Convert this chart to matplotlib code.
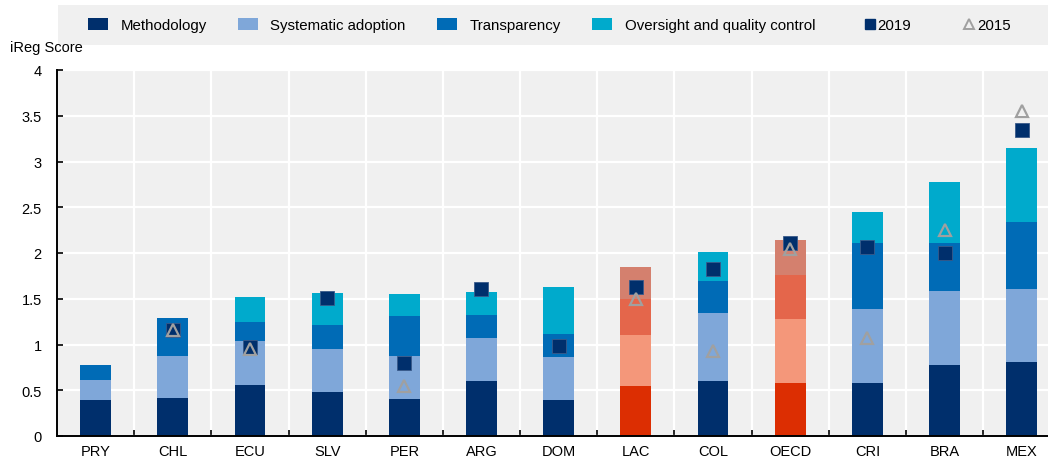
import numpy as np
import matplotlib
matplotlib.use("Agg")
import matplotlib.pyplot as plt
from matplotlib.patches import Patch, Rectangle
from matplotlib.lines import Line2D

plt.rcParams['font.family'] = ['Liberation Sans', 'DejaVu Sans']

categories = ['PRY', 'CHL', 'ECU', 'SLV', 'PER', 'ARG', 'DOM', 'LAC', 'COL', 'OECD', 'CRI', 'BRA', 'MEX']
methodology = [0.39, 0.41, 0.56, 0.48, 0.40, 0.60, 0.39, 0.55, 0.60, 0.58, 0.575, 0.78, 0.81]
systematic = [0.225, 0.467, 0.477, 0.473, 0.473, 0.469, 0.473, 0.556, 0.739, 0.695, 0.811, 0.809, 0.801]
transparency = [0.165, 0.411, 0.208, 0.265, 0.436, 0.251, 0.251, 0.39, 0.353, 0.484, 0.724, 0.523, 0.724]
oversight = [0.0, 0.0, 0.275, 0.343, 0.247, 0.251, 0.51, 0.349, 0.32, 0.379, 0.343, 0.66, 0.814]
score_2019 = [np.nan, 1.16, 0.97, 1.51, 0.80, 1.605, 0.98, 1.627, 1.823, 2.107, 2.067, 2.0, 3.34]
score_2015 = [np.nan, 1.16, 0.95, np.nan, 0.55, np.nan, np.nan, 1.50, 0.93, 2.04, 1.067, 2.25, 3.55]
highlight = ['LAC', 'OECD']

labels = ['Methodology', 'Systematic adoption', 'Transparency', 'Oversight and quality control']
blues = ['#002F6C', '#7FA7D9', '#006BB6', '#00AACC']
reds = ['#DC2E02', '#F4977A', '#E4664B', '#D4806E']
bg = '#F0F0F0'

fig = plt.figure(figsize=(10.48, 4.6), dpi=100)
ax = fig.add_axes([57 / 1048, 1 - 437 / 460, 1 - 57 / 1048, (437 - 71) / 460])
ax.set_facecolor(bg)

x = np.arange(len(categories))
bottom = np.zeros(len(categories))
for i, vals in enumerate([methodology, systematic, transparency, oversight]):
    cols = [reds[i] if c in highlight else blues[i] for c in categories]
    ax.bar(x, vals, width=0.4, bottom=bottom, color=cols, zorder=3, linewidth=0)
    bottom += np.array(vals)

ax.plot(x, score_2019, linestyle='none', marker='s', markersize=10,
        markerfacecolor='#002F6C', markeredgecolor='#3A5A8A', markeredgewidth=0.6, zorder=4)
ax.plot(x, score_2015, linestyle='none', marker='^', markersize=9,
        markerfacecolor='none', markeredgecolor='#A0A0A0', markeredgewidth=1.6, zorder=5)

ax.set_xlim(-0.5, 12.34)
ax.set_ylim(0, 4)
ax.set_yticks(np.arange(0, 4.01, 0.5))
ax.set_yticklabels(['0', '0.5', '1', '1.5', '2', '2.5', '3', '3.5', '4'])
ax.set_xticks(x)
ax.set_xticklabels(categories)
ax.set_xticks(np.arange(0.5, 12, 1), minor=True)
ax.tick_params(axis='x', which='major', length=0, pad=6, labelsize=10.5)
ax.tick_params(axis='x', which='minor', direction='in', length=4, width=1.2)
ax.tick_params(axis='y', direction='in', length=4, width=1.2, pad=11, labelsize=10.5)
ax.grid(True, axis='y', color='white', linewidth=1.6, zorder=0)
ax.grid(True, axis='x', which='minor', color='white', linewidth=1.6, zorder=0)
ax.set_axisbelow(True)
for s in ['top', 'right']:
    ax.spines[s].set_visible(False)
for s in ['left', 'bottom']:
    ax.spines[s].set_linewidth(1.4)
    ax.spines[s].set_zorder(6)

fig.text(10 / 1048, 1 - 52 / 460, 'iReg Score', fontsize=10.5, va='baseline')

# legend band
fig.patches.append(Rectangle((58 / 1048, 1 - 46 / 460), 1 - 58 / 1048, 40 / 460,
                             transform=fig.transFigure, facecolor=bg, edgecolor='none', zorder=0))
handles = [Patch(facecolor=c, edgecolor='none') for c in blues]
leg1 = fig.legend(handles, labels, ncol=4, loc='center left',
                  bbox_to_anchor=(74 / 1048, 1 - 26 / 460), frameon=False, fontsize=10.8,
                  handlelength=1.35, handleheight=0.9, handletextpad=0.85, columnspacing=2.05)
mk = [Line2D([], [], linestyle='none', marker='s', markersize=7, markerfacecolor='#002F6C',
             markeredgecolor='#002F6C'),
      Line2D([], [], linestyle='none', marker='^', markersize=7, markerfacecolor='none',
             markeredgecolor='#A0A0A0', markeredgewidth=1.4)]
leg2 = fig.legend(mk, ['2019', '2015'], ncol=2, loc='center left',
                  bbox_to_anchor=(850 / 1048, 1 - 26 / 460), frameon=False, fontsize=10.8,
                  handlelength=0.8, handletextpad=0.15, columnspacing=3.4)

fig.savefig('out.png', dpi=100, facecolor='white')
